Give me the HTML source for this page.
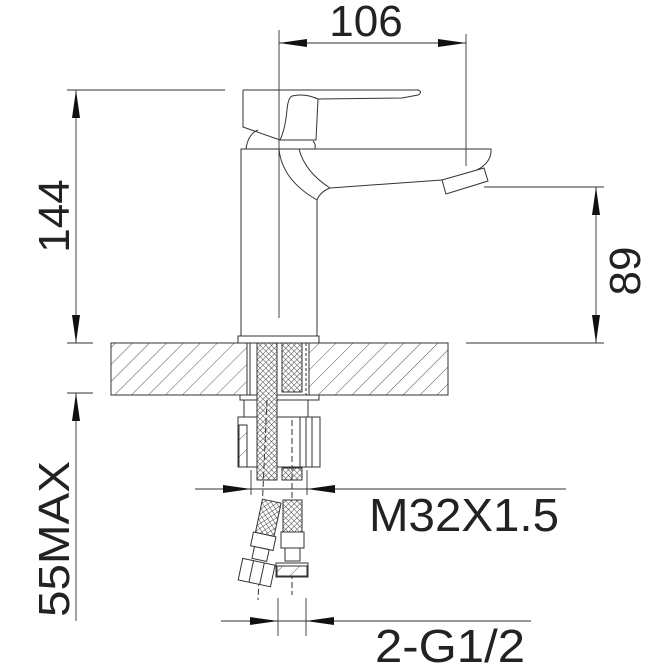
<!DOCTYPE html>
<html><head><meta charset="utf-8"><style>
html,body{margin:0;padding:0;background:#fff;}
svg{display:block;}
text{font-family:"Liberation Sans",sans-serif;fill:#222;}
</style></head><body>
<svg width="672" height="672" viewBox="0 0 672 672" xmlns="http://www.w3.org/2000/svg">
<defs>
<pattern id="hatch" patternUnits="userSpaceOnUse" width="12" height="12" patternTransform="rotate(45)">
<line x1="0" y1="0" x2="0" y2="12" stroke="#444" stroke-width="0.9"/>
</pattern>
<pattern id="mesh" patternUnits="userSpaceOnUse" width="4" height="4" patternTransform="rotate(45)">
<rect width="4" height="4" fill="#fff"/>
<line x1="0" y1="0" x2="4" y2="0" stroke="#333" stroke-width="0.9"/>
<line x1="0" y1="0" x2="0" y2="4" stroke="#333" stroke-width="0.9"/>
</pattern>
</defs>
<g fill="none" stroke="#333" stroke-width="1">
<rect x="111" y="343" width="337" height="52" fill="url(#hatch)"/>
<rect x="247" y="343" width="62" height="52" fill="#fff" stroke="none"/>
<line x1="247" y1="343" x2="247" y2="395"/><line x1="250" y1="343" x2="250" y2="395"/>
<line x1="306" y1="343" x2="306" y2="395" stroke-dasharray="3,2"/><line x1="309" y1="343" x2="309" y2="395"/>
<rect x="238" y="336" width="81" height="7" fill="#fff"/>
<path d="M241 336 V149 H491 Q492 162 477 170"/>
<path d="M317 336 V200"/>
<path d="M279 149 Q282 180 317 200"/>
<path d="M299 149 Q305 172 330 188 L442 180"/>
<path d="M317 200 Q320 192 330 188"/>
<path d="M442 180 L484 168 L488 181 L446 194 Z" fill="#fff"/>
<path d="M246 149 Q248 134 258 130"/>
<path d="M313 141 Q316 144 315 149"/>
<path d="M243 90 H418 Q423 92 418 95 L402 98 L318 99 M243 90 V127 L280 140 H316 L318 99 Q305 93 292 96 Q288 98 287 110 Q285 130 280 140"/>
<line x1="279" y1="30" x2="279" y2="318" stroke-width="0.9"/>
<rect x="240" y="395" width="79" height="5"/>
<rect x="238" y="417" width="82" height="50" fill="#fff"/>
<rect x="239" y="425" width="8" height="42" fill="url(#hatch)"/>
<line x1="244" y1="400" x2="244" y2="417"/>
<line x1="308" y1="400" x2="308" y2="417"/>
<line x1="300" y1="417" x2="300" y2="467"/><line x1="306" y1="417" x2="306" y2="467"/><line x1="312" y1="417" x2="312" y2="467"/>
<rect x="257" y="343" width="20" height="137" fill="url(#mesh)"/>
<rect x="282" y="343" width="20" height="49" fill="url(#mesh)"/>
<rect x="282" y="468" width="20" height="12" fill="url(#mesh)"/>
<line x1="267" y1="400" x2="258" y2="600" stroke-dasharray="6,3"/>
<line x1="292" y1="420" x2="292" y2="595" stroke-dasharray="6,3"/>
<g transform="rotate(12 262 540)">
<rect x="254" y="500" width="19" height="34" fill="url(#mesh)"/>
<rect x="252" y="534" width="23" height="14" fill="#fff"/>
<rect x="256" y="548" width="15" height="12" fill="#fff"/>
<rect x="247" y="562" width="33" height="22" fill="#fff"/>
<line x1="258" y1="562" x2="258" y2="584"/><line x1="269" y1="562" x2="269" y2="584"/>
</g>
<rect x="283" y="500" width="19" height="32" fill="url(#mesh)"/>
<rect x="281" y="532" width="23" height="16" fill="#fff"/>
<rect x="285" y="548" width="15" height="13" fill="#fff"/>
<rect x="276" y="563" width="32" height="14" fill="#fff"/>
<rect x="277" y="566" width="30" height="10" fill="url(#hatch)"/>
<g stroke-width="0.9">
<line x1="279" y1="43" x2="466" y2="43"/>
<line x1="466" y1="34" x2="466" y2="166"/>
<line x1="67" y1="90" x2="225" y2="90"/>
<line x1="67" y1="343" x2="93" y2="343"/>
<line x1="76" y1="90" x2="76" y2="343"/>
<line x1="484" y1="187" x2="604" y2="187"/>
<line x1="466" y1="343" x2="604" y2="343"/>
<line x1="596" y1="187" x2="596" y2="343"/>
<line x1="67" y1="393" x2="93" y2="393"/>
<line x1="76" y1="393" x2="76" y2="621"/>
<line x1="195" y1="489" x2="566" y2="489"/>
<line x1="251" y1="470" x2="251" y2="495"/><line x1="307" y1="470" x2="307" y2="495"/>
<line x1="221" y1="621" x2="531" y2="621"/>
<line x1="278" y1="598" x2="278" y2="636"/><line x1="306" y1="598" x2="306" y2="636"/>
</g>
</g>
<g fill="#111">
<path d="M279 43 L307 39 L307 47 Z"/><path d="M466 43 L438 39 L438 47 Z"/>
<path d="M76 90 L72 118 L80 118 Z"/><path d="M76 343 L72 315 L80 315 Z"/>
<path d="M596 187 L592 215 L600 215 Z"/><path d="M596 343 L592 315 L600 315 Z"/>
<path d="M76 393 L72 421 L80 421 Z"/>
<path d="M251 489 L223 485 L223 493 Z"/><path d="M307 489 L335 485 L335 493 Z"/>
<path d="M278 621 L250 617 L250 625 Z"/><path d="M306 621 L334 617 L334 625 Z"/>
</g>
<text x="366" y="36" font-size="44" text-anchor="middle">106</text>
<text transform="translate(69 216) rotate(-90)" font-size="44" text-anchor="middle">144</text>
<text transform="translate(640 271) rotate(-90)" font-size="44" text-anchor="middle">89</text>
<text transform="translate(69 539) rotate(-90)" font-size="44" text-anchor="middle" textLength="156" lengthAdjust="spacingAndGlyphs">55MAX</text>
<text x="369" y="531" font-size="46" textLength="190" lengthAdjust="spacingAndGlyphs">M32X1.5</text>
<text x="375" y="662" font-size="46" textLength="150" lengthAdjust="spacingAndGlyphs">2-G1/2</text>
</svg>
</body></html>
